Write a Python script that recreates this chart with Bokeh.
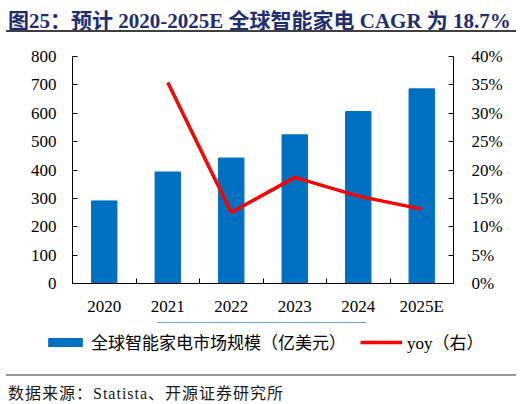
from bokeh.plotting import figure
from bokeh.layouts import column, row
from bokeh.models import (ColumnDataSource, Range1d, LinearAxis, FixedTicker,
                          SingleIntervalTicker, NumeralTickFormatter, Legend,
                          LegendItem, Div)
from bokeh.embed import file_html
from bokeh.resources import INLINE

# values
years = ["2020", "2021", "2022", "2023", "2024", "2025E"]
market_size = [291, 393, 442, 524, 606, 686]   # 亿美元
yoy_years = ["2021", "2022", "2023", "2024", "2025E"]
yoy_rate = [0.354, 0.125, 0.187, 0.154, 0.131]

title_text = "图25：预计 2020-2025E 全球智能家电 CAGR 为 18.7%"
source_text = "数据来源：Statista、开源证券研究所"
bar_label = "全球智能家电市场规模（亿美元）"
line_label = "yoy（右）"

SERIF = "Liberation Serif, Noto Sans CJK SC"
CSS_SERIF = "'Liberation Serif', 'Noto Sans CJK SC', serif"
BLUE = "#0070C0"
RED = "#FF0000"
W = 522
NOSPACE = {"margin": "0", "padding": "0"}

# header with rule underneath
title_div = Div(width=W, height=40, margin=0, styles=NOSPACE, text=(
    f'<div style="position:relative;width:{W}px;height:40px">'
    f'<div style="position:absolute;left:8px;top:4px;line-height:24px;white-space:nowrap;'
    f'font:bold 21px {CSS_SERIF};color:#1F2E73">{title_text}</div>'
    f'<div style="position:absolute;left:6px;top:30px;width:510px;height:1.5px;'
    f'background:#404040"></div></div>'))

# years sit in the middle of unit-wide slots, ticks go on the slot edges
pos = {y: i + 0.5 for i, y in enumerate(years)}
bar_src = ColumnDataSource(data=dict(x=[pos[y] for y in years], v=market_size))
yoy_src = ColumnDataSource(data=dict(x=[pos[y] for y in yoy_years], r=yoy_rate))

p = figure(width=W, height=282, output_backend="svg", toolbar_location=None,
           tools="", x_range=Range1d(0, len(years)), y_range=Range1d(0, 800),
           min_border_left=72, min_border_right=69, min_border_top=16,
           min_border_bottom=39, outline_line_color=None, margin=0)
p.xgrid.visible = False
p.ygrid.visible = False
p.extra_y_ranges = {"yoy": Range1d(0, 0.40)}

p.vbar(x="x", top="v", width=0.4, color=BLUE, source=bar_src)
p.line(x="x", y="r", y_range_name="yoy", color=RED, line_width=3.5, source=yoy_src)

right = LinearAxis(y_range_name="yoy", ticker=SingleIntervalTicker(interval=0.05),
                   formatter=NumeralTickFormatter(format="0%"))
p.add_layout(right, "right")

p.yaxis[0].ticker = SingleIntervalTicker(interval=100)
p.xaxis.ticker = FixedTicker(ticks=[pos[y] for y in years],
                             minor_ticks=list(range(len(years) + 1)))
p.xaxis.major_label_overrides = {pos[y]: y for y in years}
p.xaxis.major_tick_in = 0
p.xaxis.major_tick_out = 0
p.xaxis.minor_tick_in = 5
p.xaxis.minor_tick_out = 0
p.xaxis.minor_tick_line_color = "black"
p.xaxis.major_label_standoff = 13

p.yaxis[0].major_label_standoff = 12
right.major_label_standoff = 14
for ax in p.yaxis:
    ax.major_tick_in = 5
    ax.major_tick_out = 0
    ax.minor_tick_line_color = None

for ax in p.xaxis + p.yaxis:
    ax.axis_line_color = "black"
    ax.major_tick_line_color = "black"
    ax.major_label_text_font = "Liberation Serif"
    ax.major_label_text_font_size = "17px"
    ax.major_label_text_color = "black"

# legend strip: its own plot, whose frame spans the whole strip
# (the key glyphs reuse the data, kept out of view by the y range)
lg = figure(width=W, height=38, output_backend="svg", toolbar_location=None,
            tools="", x_range=Range1d(0, 1), y_range=Range1d(-2, -1),
            x_axis_type=None, y_axis_type=None, min_border=0,
            outline_line_color=None, margin=0)
key_bar = lg.vbar(x="x", top="v", width=0.4, color=BLUE, source=bar_src)
key_line = lg.line(x="x", y="r", color=RED, line_width=3.5, source=yoy_src)
legend = Legend(items=[LegendItem(label=bar_label, renderers=[key_bar]),
                       LegendItem(label=line_label, renderers=[key_line])],
                orientation="horizontal", location=(44, 6),
                glyph_width=42, glyph_height=10, label_standoff=5, spacing=14,
                padding=0, margin=0, border_line_color=None,
                background_fill_alpha=0, label_text_font=SERIF,
                label_text_font_size="17px", label_text_color="black")
lg.add_layout(legend)

# source line with rule above
source_div = Div(width=W, height=44, margin=0, styles=NOSPACE, text=(
    f'<div style="position:relative;width:{W}px;height:44px">'
    f'<div style="position:absolute;left:6px;top:14px;width:510px;height:2px;'
    f'background:#999999"></div>'
    f'<div style="position:absolute;left:8px;top:20px;line-height:20px;white-space:nowrap;'
    f'font:16px {CSS_SERIF};letter-spacing:1px;color:#1a1a1a">{source_text}</div></div>'))

layout = column(title_div, p, row(lg, margin=0, spacing=0), source_div, spacing=0)
open("out.html", "w").write(file_html(layout, INLINE))
